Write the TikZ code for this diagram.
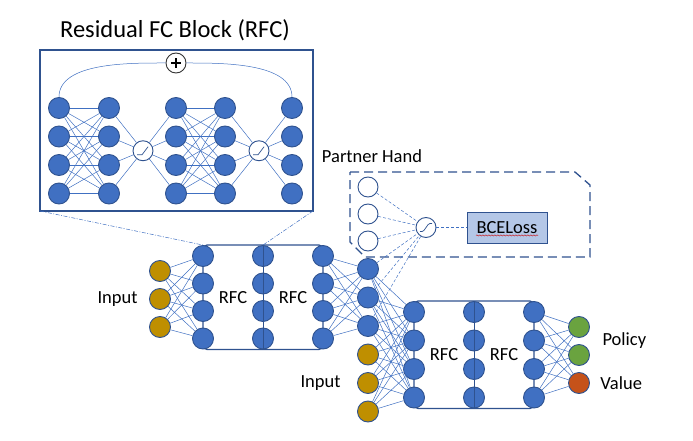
\documentclass[tikz,border=0pt]{standalone}
\usepackage{fontspec}
\setmainfont{Carlito}
\usetikzlibrary{positioning,backgrounds,decorations.pathmorphing}
\definecolor{nnblue}{HTML}{4070C2}
\definecolor{nnedge}{HTML}{2F528F}
\definecolor{nngold}{HTML}{BF8F00}
\definecolor{nngreen}{HTML}{6AA33F}
\definecolor{nnorange}{HTML}{C5521A}
\definecolor{nnlight}{HTML}{B4C7E7}

\tikzset{
  neuron/.style={circle,fill=nnblue,draw=nnedge,line width=0.9pt,minimum size=21pt,inner sep=0pt},
  inneuron/.style={neuron,fill=nngold},
  hollow/.style={neuron,fill=white,minimum size=20pt},
  link/.style={nnblue,line width=0.5pt},
  dlink/.style={link,dash pattern=on 3pt off 2pt},
  blockline/.style={nnedge,line width=1.3pt},
  lbl/.style={font=\fontsize{18.5}{20}\selectfont}
}

\begin{document}
\begin{tikzpicture}[x=1pt,y=-1pt]
  \useasboundingbox (0,0) rectangle (693,441);

  % ---- Zoomed residual block (top left) -----------------------
  \node[font=\fontsize{24.5}{27}\selectfont] (title) at (175,30) {Residual FC Block (RFC)};
  \draw[blockline] (40,50) rectangle (313,211);
  \coordinate (zl) at (40,211);
  \coordinate (zr) at (313,211);
  \foreach \x [count=\c] in {59,109,176,225,292}
    \foreach \y [count=\r] in {108,136.5,165,193.5}
      \node[neuron] (z\c\r) at (\x,\y) {};
  \node[hollow] (act1) at (143,150.75) {};
  \node[hollow] (act2) at (259,150.75) {};
  \node[hollow,draw=black!80] (plus) at (176,63) {};
  % plus sign
  \draw[black,line width=1.6pt] ([xshift=-5pt]plus.center) -- ([xshift=5pt]plus.center);
  \draw[black,line width=1.6pt] ([yshift=-5pt]plus.center) -- ([yshift=5pt]plus.center);
  % relu marks
  \draw[nnedge,line width=0.7pt] ([xshift=-6pt,yshift=-4pt]act1.center) -- ++(5pt,0pt) -- ++(6pt,8pt);
  \draw[nnedge,line width=0.7pt] ([xshift=-6pt,yshift=-4pt]act2.center) -- ++(5pt,0pt) -- ++(6pt,8pt);
  % dense layers
  \foreach \i in {1,...,4}
    \foreach \j in {1,...,4} {
      \draw[link] (z1\i) -- (z2\j);
      \draw[link] (z3\i) -- (z4\j);
    }
  \foreach \i in {1,...,4} {
    \draw[link] (z2\i) -- (act1);
    \draw[link] (act1) -- (z3\i);
    \draw[link] (z4\i) -- (act2);
    \draw[link] (act2) -- (z5\i);
  }
  % skip connection
  \draw[link] (z11.north) to[out=90,in=180,looseness=0.8] (plus);
  \draw[link] (plus) to[out=0,in=90,looseness=0.8] (z51.north);

  % ---- First network --------------------------------------------
  \foreach \y [count=\r] in {271,299,327}
    \node[inneuron] (i\r) at (160,\y) {};
  \foreach \x/\n in {203/a,263/b,323/c}
    \foreach \y [count=\r] in {256,283.5,311,338.5}
      \node[neuron] (\n\r) at (\x,\y) {};
  \foreach \y [count=\r] in {269,297.5,326}
    \node[neuron] (d\r) at (368,\y) {};
  \foreach \y [count=\r from 4] in {354.5,383,411.5}
    \node[inneuron] (d\r) at (368,\y) {};
  \node[lbl,left=8pt of i2] (in1) {Input};
  \node[lbl] (rfc1) at (233,297.25) {RFC};
  \node[lbl] (rfc2) at (293,297.25) {RFC};
  \begin{scope}[on background layer]
    \draw[blockline,rounded corners=4pt] (a1.north) rectangle (c4.south);
  \end{scope}
  \draw[nnedge,line width=1pt] (b1.north) -- (b4.south);
  \foreach \i in {1,2,3}
    \foreach \j in {1,...,4}
      \draw[link] (i\i) -- (a\j);
  \foreach \i in {1,...,4}
    \foreach \j in {1,2,3}
      \draw[link] (c\i) -- (d\j);

  % ---- Second network -------------------------------------------
  \foreach \x/\n in {414/e,474/f,534/g}
    \foreach \y [count=\r] in {312,340.5,369,397.5}
      \node[neuron] (\n\r) at (\x,\y) {};
  \node[neuron,fill=nngreen] (o1) at (579,327) {};
  \node[neuron,fill=nngreen] (o2) at (579,355) {};
  \node[neuron,fill=nnorange] (o3) at (579,383) {};
  \node[lbl,left=13pt of d5] (in2) {Input};
  \node[lbl] (rfc3) at (444,354.75) {RFC};
  \node[lbl] (rfc4) at (504,354.75) {RFC};
  \node[lbl,anchor=west] (pol) at (599,341) {Policy};
  \node[lbl,right=7pt of o3] (val) {Value};
  \begin{scope}[on background layer]
    \draw[blockline,rounded corners=4pt] (e1.north) rectangle (g4.south);
  \end{scope}
  \draw[nnedge,line width=1pt] (f1.north) -- (f4.south);
  \foreach \i in {1,...,6}
    \foreach \j in {1,...,4}
      \draw[link] (d\i) -- (e\j);
  \foreach \i in {1,...,4}
    \foreach \j in {1,2,3}
      \draw[link] (g\i) -- (o\j);

  % ---- Partner hand head ----------------------------------------
  \draw[nnedge,line width=1.3pt,dash pattern=on 9pt off 5pt]
    (350,172) -- (575,172) -- (590,185) -- (590,257) -- (365,257) -- (350,242) -- cycle;
  \node[lbl] (phand) at (372,156) {Partner Hand};
  \node[hollow] (p1) at (368,187) {};
  \node[hollow] (p2) at (368,214) {};
  \node[hollow] (p3) at (368,241) {};
  \node[hollow] (sg) at (426,227.5) {};
  \draw[nnedge,line width=0.7pt] ([xshift=-6pt,yshift=-4pt]sg.center)
    .. controls ([xshift=1pt,yshift=-5pt]sg.center) and ([xshift=-1pt,yshift=5pt]sg.center)
    .. ([xshift=6pt,yshift=4pt]sg.center);
  \node[lbl,draw=nnedge,fill=nnlight,line width=1pt,minimum width=80pt,minimum height=31pt]
    (bce) at (507,227.5) {BCELoss};
  \draw[red!80!black,line width=0.4pt,decorate,decoration={snake,amplitude=0.6pt,segment length=3pt}]
    ([xshift=-31pt,yshift=-2pt]bce.base) -- ([xshift=31pt,yshift=-2pt]bce.base);
  \foreach \i in {1,2,3} {
    \draw[dlink] (p\i) -- (sg);
    \draw[dlink] (d\i) -- (sg);
  }
  \draw[dlink] (sg) -- (bce);

  % ---- Zoom guides ------------------------------------------------
  \draw[link,dash pattern=on 4pt off 1.5pt on 1pt off 1.5pt] (zl) -- (a1.north);
  \draw[link,dash pattern=on 4pt off 1.5pt on 1pt off 1.5pt] (zr) -- (b1.north);

\end{tikzpicture}
\end{document}
